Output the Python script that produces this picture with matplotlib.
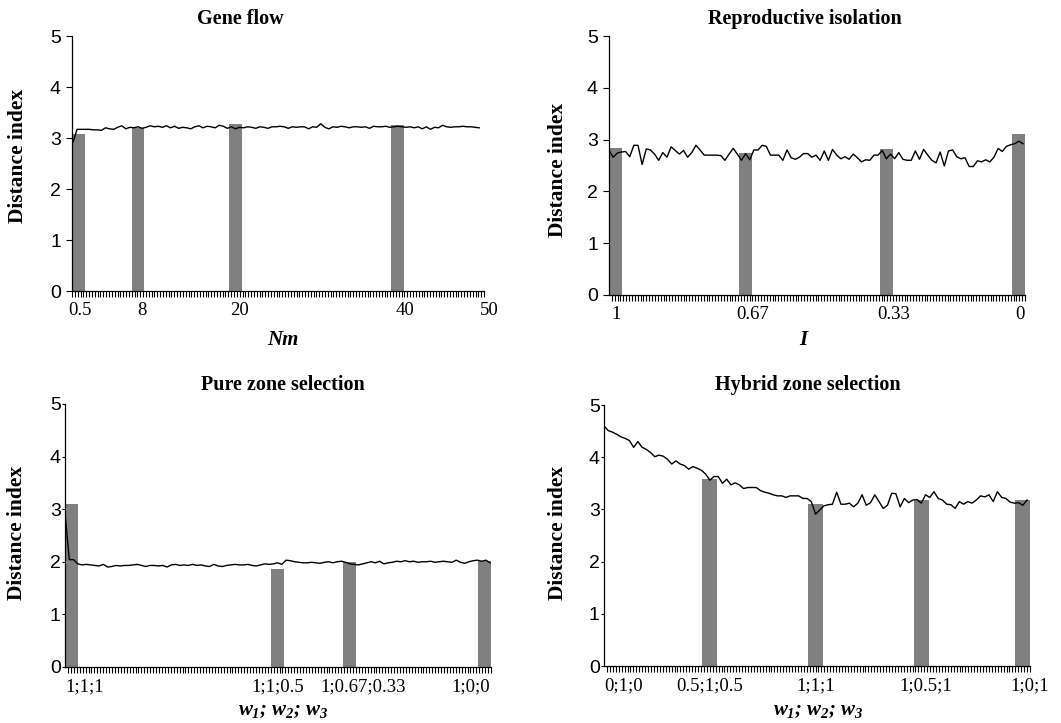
import numpy as np
import matplotlib
matplotlib.use('Agg')
import matplotlib.pyplot as plt
import matplotlib.transforms as mtransforms

plt.rcParams['font.family'] = 'Liberation Serif'
plt.rcParams['mathtext.fontset'] = 'custom'
plt.rcParams['mathtext.it'] = 'Liberation Serif:italic:bold'
plt.rcParams['mathtext.rm'] = 'Liberation Serif:italic:bold'
plt.rcParams['mathtext.bf'] = 'Liberation Serif:bold'

# ---- Gene flow (Nm from 0 to 50) ----
gene_flow_nm = np.arange(0, 50.5, 0.5)
gene_flow_line = [2.92, 3.17, 3.17, 3.17, 3.17, 3.16, 3.16, 3.15, 3.20, 3.18,
                  3.17, 3.21, 3.24, 3.18, 3.21, 3.20, 3.22, 3.19, 3.21, 3.24,
                  3.22, 3.23, 3.21, 3.24, 3.20, 3.23, 3.19, 3.21, 3.20, 3.18,
                  3.22, 3.24, 3.20, 3.23, 3.22, 3.20, 3.25, 3.23, 3.19, 3.22,
                  3.18, 3.21, 3.20, 3.22, 3.21, 3.19, 3.22, 3.21, 3.19, 3.22,
                  3.22, 3.23, 3.22, 3.19, 3.22, 3.21, 3.22, 3.22, 3.18, 3.22,
                  3.21, 3.28, 3.21, 3.18, 3.22, 3.21, 3.23, 3.22, 3.20, 3.22,
                  3.22, 3.21, 3.22, 3.19, 3.23, 3.22, 3.22, 3.23, 3.21, 3.22,
                  3.23, 3.22, 3.21, 3.22, 3.20, 3.22, 3.18, 3.22, 3.17, 3.21,
                  3.20, 3.25, 3.22, 3.21, 3.22, 3.22, 3.23, 3.22, 3.22, 3.21,
                  3.20]
gene_flow_bar_nm = [0.5, 8, 20, 40]
gene_flow_bars = [3.08, 3.20, 3.28, 3.25]
gene_flow_ticks = [0.5, 8, 20, 40, 50]
gene_flow_ticklabels = ['0.5', '8', '20', '40', '50']

# ---- Reproductive isolation (I from 1 to 0) ----
iso_I = np.arange(100, -1, -1) / 100
iso_line = [2.79, 2.66, 2.74, 2.76, 2.77, 2.67, 2.89, 2.89, 2.52, 2.82,
            2.80, 2.72, 2.60, 2.75, 2.66, 2.86, 2.79, 2.72, 2.79, 2.66,
            2.75, 2.89, 2.80, 2.70, 2.70, 2.70, 2.70, 2.69, 2.60, 2.72,
            2.83, 2.72, 2.60, 2.73, 2.61, 2.80, 2.80, 2.89, 2.87, 2.70,
            2.70, 2.70, 2.60, 2.80, 2.65, 2.62, 2.66, 2.73, 2.73, 2.66,
            2.70, 2.60, 2.78, 2.60, 2.81, 2.70, 2.63, 2.67, 2.62, 2.72,
            2.65, 2.57, 2.61, 2.60, 2.70, 2.70, 2.79, 2.63, 2.72, 2.63,
            2.75, 2.62, 2.60, 2.60, 2.78, 2.62, 2.81, 2.70, 2.60, 2.55,
            2.76, 2.49, 2.78, 2.80, 2.67, 2.63, 2.65, 2.48, 2.48, 2.59,
            2.57, 2.61, 2.57, 2.66, 2.83, 2.77, 2.87, 2.90, 2.92, 2.97,
            2.92]
iso_bar_I = [1, 0.67, 0.33, 0]
iso_bars = [2.83, 2.74, 2.81, 3.10]
iso_ticks = [1, 0.67, 0.33, 0]
iso_ticklabels = ['1', '0.67', '0.33', '0']

# ---- Pure zone selection (steps along w1;w2;w3 path) ----
pure_step = np.arange(101)
pure_line = [2.92, 2.04, 2.04, 1.96, 1.94, 1.95, 1.94, 1.93, 1.92, 1.95,
             1.90, 1.91, 1.93, 1.92, 1.93, 1.93, 1.94, 1.95, 1.93, 1.91,
             1.93, 1.93, 1.92, 1.93, 1.90, 1.94, 1.95, 1.93, 1.94, 1.93,
             1.95, 1.93, 1.94, 1.92, 1.91, 1.95, 1.92, 1.91, 1.93, 1.94,
             1.95, 1.94, 1.94, 1.95, 1.93, 1.92, 1.94, 1.96, 1.95, 1.96,
             1.98, 1.95, 2.03, 2.02, 2.00, 1.99, 1.98, 1.98, 1.99, 1.98,
             1.97, 1.99, 2.00, 1.98, 2.00, 2.01, 1.99, 1.96, 1.95, 1.94,
             1.96, 1.98, 2.00, 1.98, 2.01, 1.96, 1.98, 1.99, 2.01, 2.00,
             2.02, 2.00, 2.01, 1.99, 2.00, 2.00, 2.01, 1.99, 2.00, 2.01,
             2.00, 1.99, 2.03, 1.99, 1.97, 2.00, 2.02, 2.03, 2.01, 2.03,
             1.98]
pure_bar_step = [0, 50, 67, 100]
pure_bars = [3.09, 1.87, 2.00, 2.02]
pure_ticks = [0, 50, 67, 100]
pure_ticklabels = ['1;1;1', '1;1;0.5', '1;0.67;0.33', '1;0;0']

# ---- Hybrid zone selection ----
hybrid_step = np.arange(101)
hybrid_line = [4.60, 4.51, 4.48, 4.44, 4.39, 4.36, 4.32, 4.19, 4.30, 4.19,
               4.15, 4.09, 4.01, 4.04, 4.02, 3.96, 3.87, 3.93, 3.87, 3.84,
               3.77, 3.82, 3.79, 3.75, 3.68, 3.56, 3.63, 3.63, 3.50, 3.58,
               3.47, 3.51, 3.47, 3.40, 3.42, 3.42, 3.42, 3.36, 3.33, 3.31,
               3.28, 3.26, 3.26, 3.23, 3.26, 3.26, 3.26, 3.21, 3.21, 3.15,
               2.91, 2.99, 3.07, 3.09, 3.10, 3.33, 3.10, 3.10, 3.12, 3.05,
               3.12, 3.28, 3.08, 3.13, 3.28, 3.15, 3.02, 3.08, 3.31, 3.30,
               3.05, 3.21, 3.13, 3.18, 3.19, 3.12, 3.28, 3.23, 3.34, 3.21,
               3.18, 3.10, 3.09, 3.02, 3.15, 3.10, 3.15, 3.12, 3.18, 3.26,
               3.24, 3.28, 3.15, 3.34, 3.23, 3.21, 3.14, 3.12, 3.13, 3.08,
               3.18]
hybrid_bar_step = [25, 50, 75, 100]
hybrid_bars = [3.58, 3.10, 3.19, 3.18]
hybrid_ticks = [0, 25, 50, 75, 100]
hybrid_ticklabels = ['0;1;0', '0.5;1;0.5', '1;1;1', '1;0.5;1', '1;0;1']

w_label = r'$w_1$; $w_2$; $w_3$'

fig = plt.figure(figsize=(10.61, 7.23), dpi=100)

panels = [
    dict(rect=[0.0679, 0.5975, 0.3883, 0.3527], x=gene_flow_nm, y=gene_flow_line,
         bx=gene_flow_bar_nm, by=gene_flow_bars, bw=1.6, xlim=(-0.12, 50.6),
         ticks=gene_flow_ticks, labels=gene_flow_ticklabels,
         ha=['center'] * 5, dx=[3, 4, 4, 7, 10],
         title='Gene flow', title_pos=(0.408, 1.067),
         xlabel='Nm', xlabel_pos=(0.512, -0.192),
         ylabel_pos=(-0.131, 0.529), tick_y_len=4, tick_y_pad=4),
    dict(rect=[0.574, 0.592, 0.3921, 0.3582], x=iso_I, y=iso_line,
         bx=iso_bar_I, by=iso_bars, bw=0.031, xlim=(1.0, -0.005),
         ticks=iso_ticks, labels=iso_ticklabels,
         ha=['center'] * 4, dx=[7, 7, 7, -3],
         title='Reproductive isolation', title_pos=(0.471, 1.066),
         xlabel='I', xlabel_pos=(0.466, -0.174),
         ylabel_pos=(-0.123, 0.483), tick_y_len=4, tick_y_pad=4),
    dict(rect=[0.0613, 0.0775, 0.4015, 0.3638], x=pure_step, y=pure_line,
         bx=pure_bar_step, by=pure_bars, bw=3.1, xlim=(0, 100.2),
         ticks=pure_ticks, labels=pure_ticklabels,
         ha=['left', 'center', 'center', 'right'], dx=[0, 0, 13, 0],
         title='Pure zone selection', title_pos=(0.512, 1.072),
         xlabel=w_label, xlabel_pos=(0.512, -0.163),
         ylabel_pos=(-0.113, 0.51), tick_y_len=2, tick_y_pad=1),
    dict(rect=[0.5693, 0.0788, 0.4015, 0.361], x=hybrid_step, y=hybrid_line,
         bx=hybrid_bar_step, by=hybrid_bars, bw=3.5, xlim=(0, 100.7),
         ticks=hybrid_ticks, labels=hybrid_ticklabels,
         ha=['left', 'center', 'center', 'center', 'center'], dx=[0, 0, 0, 4, 3],
         title='Hybrid zone selection', title_pos=(0.479, 1.077),
         xlabel=w_label, xlabel_pos=(0.502, -0.169),
         ylabel_pos=(-0.108, 0.51), tick_y_len=2, tick_y_pad=1),
]

for p in panels:
    ax = fig.add_axes(p['rect'])
    lo, hi = min(p['xlim']), max(p['xlim'])
    # keep the end bars fully inside the axis, as in the original
    bar_x = np.clip(p['bx'], lo + p['bw'] / 2, hi - p['bw'] / 2)
    ax.bar(bar_x, p['by'], width=p['bw'], color='#808080', zorder=1)
    ax.plot(p['x'], p['y'], color='black', lw=1.0, zorder=2)

    ax.set_xlim(p['xlim'])
    ax.set_ylim(0, 5)
    ax.set_yticks([0, 1, 2, 3, 4, 5])
    ax.set_yticklabels(['0', '1', '2', '3', '4', '5'], family='Liberation Sans', fontsize=14)
    ax.tick_params(axis='y', length=p['tick_y_len'], width=0.8, pad=p['tick_y_pad'])

    ax.set_xticks(p['ticks'])
    ax.set_xticklabels(p['labels'], fontsize=13.5)
    ax.set_xticks(np.linspace(p['xlim'][0], p['xlim'][1], 146), minor=True)
    ax.tick_params(axis='x', which='major', length=0, pad=8)
    ax.tick_params(axis='x', which='minor', length=4, width=0.8)
    for lab, ha, dx in zip(ax.get_xticklabels(), p['ha'], p['dx']):
        lab.set_ha(ha)
        lab.set_transform(lab.get_transform() +
                          mtransforms.ScaledTranslation(dx / 100, 0, fig.dpi_scale_trans))

    for s in ['top', 'right']:
        ax.spines[s].set_visible(False)
    for s in ['left', 'bottom']:
        ax.spines[s].set_linewidth(0.9)

    ax.text(*p['title_pos'], p['title'], transform=ax.transAxes, ha='center',
            va='center', fontsize=14.5, fontweight='bold')
    ax.text(*p['xlabel_pos'], p['xlabel'], transform=ax.transAxes, ha='center',
            va='center', fontsize=15, fontweight='bold', style='italic')
    ax.text(*p['ylabel_pos'], 'Distance index', transform=ax.transAxes, ha='center',
            va='center', rotation=90, fontsize=15.5, fontweight='bold')

fig.savefig('out.png', dpi=100)
